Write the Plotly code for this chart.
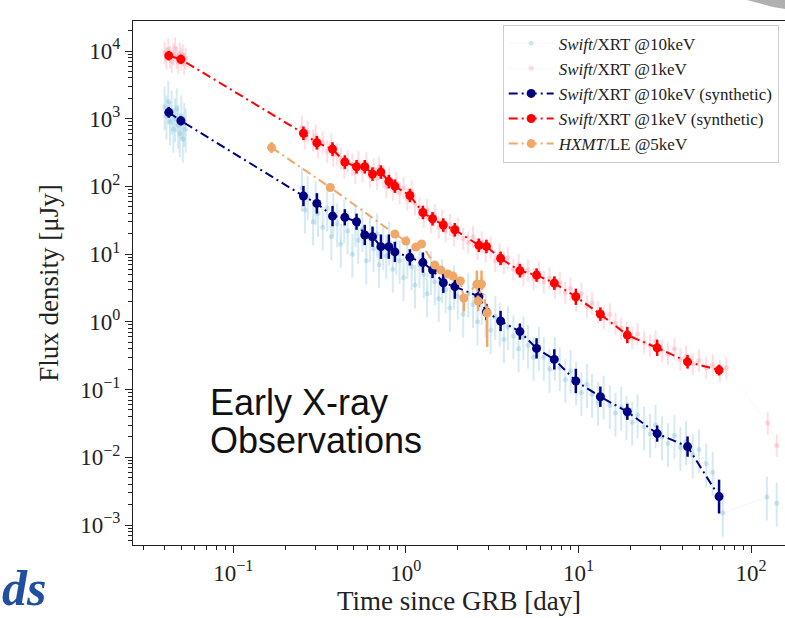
import plotly.graph_objects as go

# ---------------- data ----------------
# synthetic Swift/XRT light curves (shared epochs, days)
t_syn = [0.0423, 0.0497, 0.255, 0.305, 0.376, 0.443, 0.518, 0.578, 0.641, 0.717,
         0.797, 0.864, 1.055, 1.255, 1.428, 1.649, 1.922, 2.65, 2.93, 3.54,
         4.58, 5.72, 7.25, 9.66, 13.4, 19.2, 28.6, 42.9, 65.3]
f10_syn = [1243, 933, 72.1, 56.2, 36.5, 35.0, 30.1, 19.2, 18.1, 12.9,
           12.9, 10.8, 8.97, 7.51, 5.82, 3.78, 3.32, 2.37, 1.40, 1.03,
           0.719, 0.406, 0.279, 0.134, 0.0784, 0.0470, 0.0224, 0.0144, 0.00263]
e10_syn_dex = [0.08, 0.07, 0.15, 0.15, 0.15, 0.12, 0.12, 0.15, 0.15, 0.18,
               0.18, 0.15, 0.12, 0.15, 0.12, 0.15, 0.18, 0.15, 0.12, 0.15,
               0.12, 0.15, 0.15, 0.18, 0.15, 0.12, 0.12, 0.15, 0.25]
f1_syn = [8530, 7530, 609, 442, 356, 229, 195, 195, 152, 163,
          118, 101, 73.4, 41.2, 33.3, 26.9, 22.9, 13.5, 13.0, 8.67,
          5.69, 4.91, 3.74, 2.35, 1.30, 0.638, 0.414, 0.257, 0.194]
e1_syn_dex = [0.07, 0.07, 0.10, 0.10, 0.10, 0.10, 0.10, 0.10, 0.10, 0.10,
              0.10, 0.10, 0.10, 0.10, 0.10, 0.10, 0.10, 0.10, 0.10, 0.10,
              0.10, 0.10, 0.10, 0.12, 0.10, 0.12, 0.12, 0.10, 0.08]

# HXMT/LE @5keV
t_hx = [0.1667, 0.365, 0.864, 1.0, 1.143, 1.233, 1.472, 1.595, 1.758, 1.872,
        2.07, 2.168, 2.58, 2.624, 2.745, 2.958]
f_hx = [375, 96.4, 19.8, 15.6, 12.7, 14.1, 6.9, 5.82, 5.08, 4.75,
        4.01, 2.25, 3.61, 2.03, 3.61, 1.35]
ehx_up_dex = [0.08, 0.05, 0.05, 0.05, 0.05, 0.06, 0.05, 0.05, 0.05, 0.05,
              0.05, 0.06, 0.20, 0.08, 0.20, 0.10]
ehx_dn_dex = [0.08, 0.05, 0.05, 0.05, 0.05, 0.06, 0.05, 0.05, 0.05, 0.05,
              0.05, 0.20, 0.08, 0.15, 0.08, 0.50]

# observed Swift/XRT @10keV (faint)
t_xrt10 = [0.040, 0.041, 0.042, 0.043, 0.044, 0.045, 0.046, 0.047, 0.048, 0.049,
           0.050, 0.051, 0.052, 0.053,
           0.25, 0.26, 0.27, 0.29, 0.30, 0.31, 0.33, 0.35, 0.37, 0.38,
           0.40, 0.42, 0.44, 0.46, 0.49, 0.51, 0.53, 0.56, 0.59, 0.62,
           0.65, 0.68, 0.70, 0.74, 0.77, 0.80, 0.84, 0.88, 0.92, 0.97,
           1.02, 1.08, 1.13, 1.20, 1.27, 1.33, 1.40, 1.47, 1.55, 1.62,
           1.70, 1.80, 1.90, 2.0, 2.15, 2.3, 2.45, 2.6, 2.75, 2.9,
           3.1, 3.3, 3.5, 3.7, 3.9, 4.2, 4.5, 4.8, 5.1, 5.5,
           5.9, 6.3, 6.8, 7.3, 7.8, 8.4, 9.0, 9.7, 10.4, 11.2,
           12.0, 13.0, 14.0, 15.2, 16.4, 17.7, 19.0, 20.5, 22.0, 24.0,
           26.0, 28.0, 30.5, 33.0, 36.0, 39.0, 42.0, 46.0, 50.0, 55.0,
           60.0, 68.7, 123.6, 141.0]
f_xrt10 = [1500, 1100, 1800, 900, 1300, 700, 1000, 1400, 800, 600,
           1100, 500, 850, 700,
           95, 45, 70, 30, 60, 40, 25, 48, 18, 40,
           28, 14, 32, 22, 10, 28, 16, 24, 8, 17,
           12, 20, 7, 13, 9.5, 15, 6, 11, 8, 4.5,
           9.5, 6.5, 3.5, 7.0, 5.0, 2.6, 5.5, 3.9, 2.2, 4.2,
           3.0, 1.6, 3.4, 2.4, 1.3, 2.6, 1.8, 1.0, 2.0, 1.3,
           0.75, 1.2, 0.95, 0.55, 0.85, 0.62, 0.40, 0.60, 0.45, 0.30,
           0.42, 0.30, 0.20, 0.30, 0.21, 0.14, 0.19, 0.13, 0.09, 0.12,
           0.085, 0.065, 0.08, 0.058, 0.045, 0.055, 0.040, 0.033, 0.042, 0.028,
           0.022, 0.030, 0.020, 0.016, 0.021, 0.014, 0.017, 0.011, 0.013, 0.008,
           0.006, 0.0015, 0.0026, 0.0021]

# observed Swift/XRT @1keV (faint)
t_xrt1 = [0.040, 0.041, 0.042, 0.043, 0.044, 0.045, 0.046, 0.047, 0.048, 0.049,
          0.050, 0.051, 0.052, 0.053,
          0.25, 0.26, 0.27, 0.29, 0.30, 0.31, 0.33, 0.35, 0.37, 0.38,
          0.40, 0.42, 0.44, 0.46, 0.49, 0.51, 0.53, 0.56, 0.59, 0.62,
          0.65, 0.68, 0.70, 0.74, 0.77, 0.80, 0.84, 0.88, 0.92, 0.97,
          1.02, 1.08, 1.13, 1.20, 1.27, 1.33, 1.40, 1.47, 1.55, 1.62,
          1.70, 1.80, 1.90, 2.0, 2.15, 2.3, 2.45, 2.6, 2.75, 2.9,
          3.1, 3.3, 3.5, 3.7, 3.9, 4.2, 4.5, 4.8, 5.1, 5.5,
          5.9, 6.3, 6.8, 7.3, 7.8, 8.4, 9.0, 9.7, 10.4, 11.2,
          12.0, 13.0, 14.0, 15.2, 16.4, 17.7, 19.0, 20.5, 22.0, 24.0,
          26.0, 28.0, 30.5, 33.0, 36.0, 39.0, 42.0, 46.0, 50.0, 55.0,
          60.0, 66.0, 72.0, 125.0, 141.0]
f_xrt1 = [9500, 7800, 10500, 8200, 7000, 9000, 11000, 8000, 6800, 9200,
          7600, 8800, 6500, 7800,
          750, 520, 640, 480, 560, 380, 450, 330, 420, 290,
          300, 260, 190, 240, 210, 160, 230, 170, 220, 140,
          180, 130, 190, 140, 100, 135, 90, 115, 80, 95,
          65, 85, 55, 48, 36, 45, 30, 38, 25, 31,
          22, 27, 19, 24, 17, 15, 18, 12, 15, 11,
          12.5, 8.0, 10, 7.5, 8.8, 6.0, 7.0, 5.0, 5.8, 4.3,
          5.4, 3.9, 4.4, 3.2, 3.8, 2.7, 3.1, 2.1, 2.6, 1.7,
          1.9, 1.4, 1.15, 1.3, 0.95, 0.80, 0.70, 0.58, 0.66, 0.50,
          0.45, 0.52, 0.38, 0.34, 0.40, 0.28, 0.31, 0.24, 0.27, 0.21,
          0.23, 0.19, 0.21, 0.032, 0.015]

# axis ticks
x_tickvals = [0.1, 1, 10, 100]
x_ticktext = ["10<sup>\u22121</sup>", "10<sup>0</sup>", "10<sup>1</sup>", "10<sup>2</sup>"]
y_tickvals = [1e-3, 1e-2, 1e-1, 1, 10, 100, 1e3, 1e4]
y_ticktext = ["10<sup>\u22123</sup>", "10<sup>\u22122</sup>", "10<sup>\u22121</sup>",
              "10<sup>0</sup>", "10<sup>1</sup>", "10<sup>2</sup>",
              "10<sup>3</sup>", "10<sup>4</sup>"]
x_decades = [-2, -1, 0, 1, 2]
y_decades = [-4, -3, -2, -1, 0, 1, 2, 3, 4]

# ---------------- helpers ----------------
def up(y, dex):
    return [v * (10 ** d - 1) for v, d in zip(y, dex)]

def dn(y, dex):
    return [v * (1 - 10 ** (-d)) for v, d in zip(y, dex)]

SERIF = "Liberation Serif, Times New Roman, serif"
SANS = "Liberation Sans, Arial, sans-serif"
DASH = "9px,4px,2px,4px"

fig = go.Figure()

fig.add_trace(go.Scatter(
    x=t_xrt10, y=f_xrt10, mode="lines+markers",
    name="<i>Swift</i>/XRT @10keV", legendgroup="a",
    line=dict(color="rgba(135,195,220,0.12)", width=1),
    marker=dict(color="rgba(135,195,220,0.40)", size=5),
    error_y=dict(type="percent", value=100, valueminus=55,
                 color="rgba(135,195,220,0.35)", thickness=2, width=0),
))
fig.add_trace(go.Scatter(
    x=t_xrt1, y=f_xrt1, mode="lines+markers",
    name="<i>Swift</i>/XRT @1keV", legendgroup="b",
    line=dict(color="rgba(255,170,185,0.12)", width=1),
    marker=dict(color="rgba(255,170,185,0.45)", size=5),
    error_y=dict(type="percent", value=45, valueminus=32,
                 color="rgba(255,170,185,0.40)", thickness=2, width=0),
))
fig.add_trace(go.Scatter(
    x=t_syn, y=f10_syn, mode="lines+markers",
    name="<i>Swift</i>/XRT @10keV (synthetic)", legendgroup="c",
    line=dict(color="#000080", width=2, dash=DASH),
    marker=dict(color="#000080", size=9),
    error_y=dict(type="data", symmetric=False,
                 array=up(f10_syn, e10_syn_dex), arrayminus=dn(f10_syn, e10_syn_dex),
                 color="#000080", thickness=2.5, width=0),
))
fig.add_trace(go.Scatter(
    x=t_syn, y=f1_syn, mode="lines+markers",
    name="<i>Swift</i>/XRT @1keV (synthetic)", legendgroup="d",
    line=dict(color="#ff0000", width=2, dash=DASH),
    marker=dict(color="#ff0000", size=9),
    error_y=dict(type="data", symmetric=False,
                 array=up(f1_syn, e1_syn_dex), arrayminus=dn(f1_syn, e1_syn_dex),
                 color="#ff0000", thickness=2.5, width=0),
))
fig.add_trace(go.Scatter(
    x=t_hx, y=f_hx, mode="lines+markers",
    name="<i>HXMT</i>/LE @5keV", legendgroup="e",
    line=dict(color="#f0a868", width=2, dash=DASH),
    marker=dict(color="#f0a868", size=9),
    error_y=dict(type="data", symmetric=False,
                 array=up(f_hx, ehx_up_dex), arrayminus=dn(f_hx, ehx_dn_dex),
                 color="#f0a868", thickness=2.5, width=0),
))

def minor_vals(decades):
    return [m * 10 ** d for d in decades for m in range(2, 10)]

axis_common = dict(
    type="log", showline=True, linecolor="#222", linewidth=1, mirror=True,
    ticks="outside", ticklen=7, tickwidth=1, tickcolor="#222",
    showgrid=False, zeroline=False,
    tickfont=dict(family=SERIF, size=23, color="#222"),
)

fig.update_layout(
    width=785, height=618,
    margin=dict(l=133, r=0, t=21, b=73),
    paper_bgcolor="white", plot_bgcolor="white",
    showlegend=True,
    legend=dict(
        x=0.567, y=0.993, xanchor="left", yanchor="top",
        bgcolor="rgba(255,255,255,0.9)", bordercolor="#cccccc", borderwidth=1,
        font=dict(family=SERIF, size=17, color="#222"),
        tracegroupgap=0, itemwidth=45,
    ),
    xaxis=dict(axis_common, range=[-1.581, 2.197],
               tickmode="array", tickvals=x_tickvals, ticktext=x_ticktext,
               minor=dict(tickmode="array", tickvals=minor_vals(x_decades),
                          ticks="outside", ticklen=4, tickcolor="#222", showgrid=False),
               title=dict(text="Time since GRB [day]",
                          font=dict(family=SERIF, size=27, color="#222"), standoff=6)),
    yaxis=dict(axis_common, range=[-3.295, 4.443],
               tickmode="array", tickvals=y_tickvals, ticktext=y_ticktext,
               minor=dict(tickmode="array", tickvals=minor_vals(y_decades),
                          ticks="outside", ticklen=4, tickcolor="#222", showgrid=False),
               title=dict(text="Flux density [\u03bcJy]",
                          font=dict(family=SERIF, size=27, color="#222"), standoff=13)),
)

# slide overlay text
fig.add_annotation(
    xref="paper", yref="paper", x=(208 - 133) / 652, y=(545 - 403) / 524,
    xanchor="left", yanchor="middle", align="left", showarrow=False,
    text="Early X-ray", font=dict(family=SANS, size=36, color="#111"),
)
fig.add_annotation(
    xref="paper", yref="paper", x=(208 - 133) / 652, y=(545 - 440) / 524,
    xanchor="left", yanchor="middle", align="left", showarrow=False,
    text="Observations", font=dict(family=SANS, size=36, color="#111"),
)
fig.add_annotation(
    xref="paper", yref="paper", x=(0 - 133) / 652, y=(545 - 588) / 524,
    xanchor="left", yanchor="middle", showarrow=False,
    text="<b><i>ds</i></b>",
    font=dict(family="Liberation Serif, serif", size=50, color="#1f4f9e"),
)

# grey slide-corner wedge (pixel offsets from the top-right corner of the plot area)
fig.add_shape(type="path", xref="paper", yref="paper",
              xsizemode="pixel", ysizemode="pixel", xanchor=1.0, yanchor=1.0,
              path="M-38,21L0,21L0,12L-12,14Z",
              fillcolor="#b0b0b0", line=dict(width=0), layer="above")

fig.write_html("out.html")
